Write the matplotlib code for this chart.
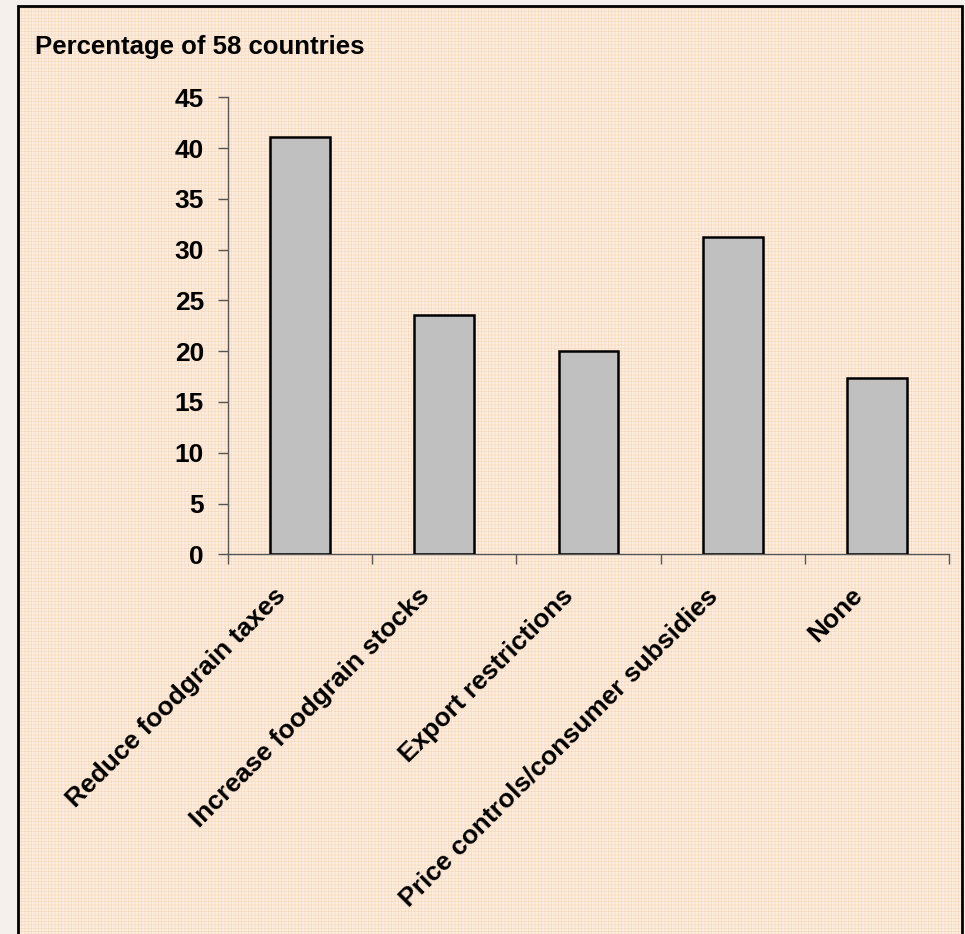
import numpy as np
import matplotlib
matplotlib.use("Agg")
import matplotlib.pyplot as plt
import matplotlib.patches as patches
from matplotlib.transforms import ScaledTranslation

categories = ["Reduce foodgrain taxes", "Increase foodgrain stocks", "Export restrictions",
              "Price controls/consumer subsidies", "None"]
values = [41.1, 23.6, 20.0, 31.2, 17.4]
yticks = [0, 5, 10, 15, 20, 25, 30, 35, 40, 45]
title = "Percentage of 58 countries"

plt.rcParams['font.family'] = ['Liberation Sans', 'DejaVu Sans']
plt.rcParams['font.weight'] = 'bold'
plt.rcParams['hatch.linewidth'] = 0.4

W, H = 965, 934
fig = plt.figure(figsize=(W / 100, H / 100), dpi=100)
fig.patch.set_facecolor('#F5F0EC')

# peach chart area with fine grid pattern, then black frame
bg = patches.Rectangle((18 / W, -0.05), (962 - 18) / W, 1 - 6 / H + 0.05,
                       transform=fig.transFigure, facecolor='#FCEDE0',
                       edgecolor='#F7D6B8', linewidth=0, hatch='+++++', zorder=-2)
fig.add_artist(bg)
frame = patches.Rectangle((18 / W, -0.05), (962 - 18) / W, 1 - 6 / H + 0.05,
                          transform=fig.transFigure, facecolor='none',
                          edgecolor='black', linewidth=2, zorder=-1)
fig.add_artist(frame)

ax = fig.add_axes([228 / W, 1 - 554.3 / H, (949 - 228) / W, (554.3 - 97.3) / H])
ax.patch.set_alpha(0)

x = np.arange(len(categories)) + 0.5
ax.bar(x, values, width=0.415, color='#C0C0C0', edgecolor='black', linewidth=1.8, zorder=3)

ax.set_xlim(0, len(categories))
ax.set_ylim(0, 45)
ax.set_yticks(yticks)
ax.set_xticks(x)
ax.set_xticklabels(categories, rotation=45, ha='right', rotation_mode='anchor')
ax.set_xticks(np.arange(len(categories) + 1), minor=True)

for s in ['top', 'right']:
    ax.spines[s].set_visible(False)
for s in ['left', 'bottom']:
    ax.spines[s].set_color('#555555')
    ax.spines[s].set_linewidth(1)

ax.tick_params(axis='y', direction='out', length=7.2, width=1, color='#555555',
               labelsize=19, pad=10)
ax.tick_params(axis='x', which='major', length=0, labelsize=19, pad=21)
ax.tick_params(axis='x', which='minor', direction='out', length=7, width=1, color='#555555')

offset = ScaledTranslation(-0.27, 0, fig.dpi_scale_trans)
for lab in ax.get_xticklabels():
    lab.set_transform(lab.get_transform() + offset)

fig.text(35 / W, 1 - 54 / H, title, fontsize=18.5, fontweight='bold', va='baseline', ha='left')

fig.savefig("out.png", dpi=100, facecolor=fig.get_facecolor())
